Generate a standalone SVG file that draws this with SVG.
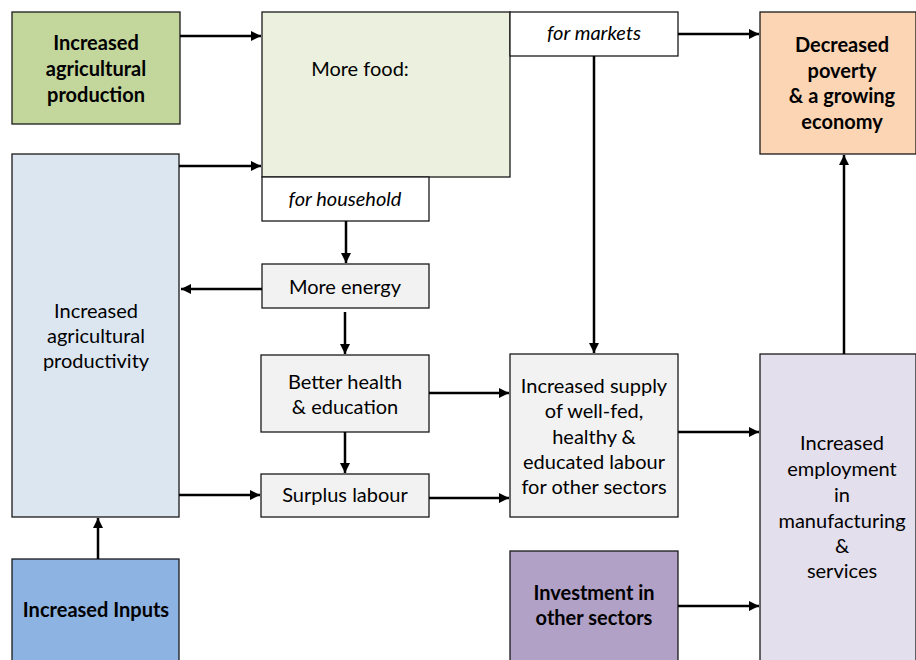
<svg xmlns="http://www.w3.org/2000/svg" width="916" height="660" viewBox="0 0 916 660">
<defs>
<marker id="ah" viewBox="0 0 10 10" refX="10" refY="5" markerWidth="10" markerHeight="10" markerUnits="userSpaceOnUse" orient="auto">
<path d="M0,0 L10,5 L0,10 Z" fill="#000"/>
</marker>
<style>
.box{stroke:#1a1a1a;stroke-width:1.3}
text{font-family:Lato,"Open Sans","Liberation Sans",sans-serif;font-size:20px;fill:#000;text-anchor:middle}
.b{font-weight:bold}
.i{font-style:italic}
.c{stroke:#000;stroke-width:2.5;fill:none;marker-end:url(#ah)}
</style>
</defs>
<rect width="916" height="660" fill="#fff"/>
<g id="n-production">
<rect class="box" x="12" y="12" width="168" height="112" fill="#c3d69b"/>
<text class="b" x="96" y="50">Increased</text>
<text class="b" x="96" y="76">agricultural</text>
<text class="b" x="96" y="102">production</text>
</g>
<g id="n-morefood">
<rect class="box" x="262" y="12" width="248" height="165" fill="#ebf1de"/>
<text x="360" y="76">More food:</text>
</g>
<g id="n-markets">
<rect class="box" x="510" y="12" width="168" height="44" fill="#fff"/>
<text class="i" x="594" y="40">for markets</text>
</g>
<g id="n-household">
<rect class="box" x="262" y="177" width="167" height="44" fill="#fff"/>
<text class="i" x="345" y="206">for household</text>
</g>
<g id="n-poverty">
<rect class="box" x="760" y="12" width="156" height="142" fill="#fcd5b5"/>
<text class="b" x="842" y="52">Decreased</text>
<text class="b" x="842" y="78">poverty</text>
<text class="b" x="842" y="103">&amp; a growing</text>
<text class="b" x="842" y="129">economy</text>
</g>
<g id="n-productivity">
<rect class="box" x="12" y="154" width="167" height="363" fill="#dce6f1"/>
<text x="96" y="318">Increased</text>
<text x="96" y="343">agricultural</text>
<text x="96" y="368">productivity</text>
</g>
<g id="n-energy">
<rect class="box" x="262" y="264" width="167" height="44" fill="#f2f2f2"/>
<text x="345" y="294">More energy</text>
</g>
<g id="n-health">
<rect class="box" x="261" y="355" width="168" height="77" fill="#f2f2f2"/>
<text x="345" y="389">Better health</text>
<text x="345" y="414">&amp; education</text>
</g>
<g id="n-surplus">
<rect class="box" x="261" y="474" width="168" height="43" fill="#f2f2f2"/>
<text x="345" y="502">Surplus labour</text>
</g>
<g id="n-supply">
<rect class="box" x="510" y="354" width="168" height="163" fill="#f2f2f2"/>
<text x="594" y="393">Increased supply</text>
<text x="594" y="418">of well-fed,</text>
<text x="594" y="444">healthy &amp;</text>
<text x="594" y="469">educated labour</text>
<text x="594" y="494">for other sectors</text>
</g>
<g id="n-employment">
<rect class="box" x="760" y="354" width="156" height="310" fill="#e4dfec"/>
<text x="842" y="450">Increased</text>
<text x="842" y="476">employment</text>
<text x="842" y="502">in</text>
<text x="842" y="528">manufacturing</text>
<text x="842" y="553">&amp;</text>
<text x="842" y="578">services</text>
</g>
<g id="n-investment">
<rect class="box" x="510" y="551" width="168" height="113" fill="#b2a1c7"/>
<text class="b" x="594" y="600">Investment in</text>
<text class="b" x="594" y="625">other sectors</text>
</g>
<g id="n-inputs">
<rect class="box" x="12" y="559" width="167" height="105" fill="#8db3e2"/>
<text class="b" x="96" y="617">Increased Inputs</text>
</g>
<g id="connectors">
<line class="c" x1="180" y1="36" x2="261" y2="36"/>
<line class="c" x1="179" y1="166" x2="261" y2="166"/>
<line class="c" x1="678" y1="34" x2="759" y2="34"/>
<line class="c" x1="594" y1="56" x2="594" y2="353"/>
<line class="c" x1="346" y1="221" x2="346" y2="263"/>
<line class="c" x1="262" y1="289" x2="181" y2="289"/>
<line class="c" x1="345" y1="312" x2="345" y2="354"/>
<line class="c" x1="345" y1="432" x2="345" y2="473"/>
<line class="c" x1="429" y1="393" x2="509" y2="393"/>
<line class="c" x1="429" y1="498" x2="509" y2="498"/>
<line class="c" x1="179" y1="495" x2="260" y2="495"/>
<line class="c" x1="678" y1="432" x2="759" y2="432"/>
<line class="c" x1="678" y1="606" x2="759" y2="606"/>
<line class="c" x1="844" y1="354" x2="844" y2="155"/>
<line class="c" x1="98" y1="559" x2="98" y2="518"/>
</g>
</svg>
